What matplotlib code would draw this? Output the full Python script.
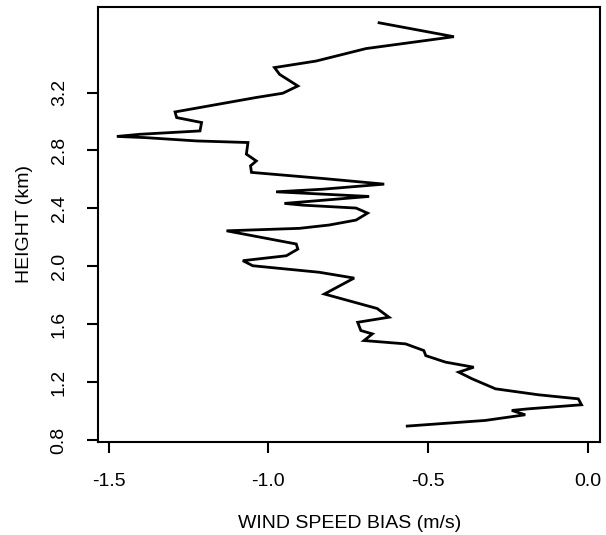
import matplotlib
matplotlib.use("Agg")
import matplotlib.pyplot as plt

plt.rcParams['font.family'] = ['Liberation Sans', 'DejaVu Sans']

bias = [-0.566, -0.322, -0.197, -0.239, -0.187, -0.021, -0.031, -0.156, -0.290,
        -0.363, -0.405, -0.358, -0.446, -0.508, -0.514, -0.571, -0.701, -0.675,
        -0.711, -0.721, -0.623, -0.660, -0.825, -0.732, -0.841, -1.049, -1.080,
        -0.944, -0.908, -0.913, -1.131, -0.903, -0.810, -0.726, -0.690, -0.726,
        -0.893, -0.950, -0.685, -0.830, -0.976, -0.830, -0.638, -0.830, -1.053,
        -1.056, -1.038, -1.069, -1.064, -1.225, -1.386, -1.474, -1.401, -1.214,
        -1.209, -1.287, -1.292, -1.040, -0.955, -0.908, -0.965, -0.981, -0.851,
        -0.695, -0.420, -0.654]
height = [0.899, 0.938, 0.977, 1.007, 1.018, 1.046, 1.087, 1.115, 1.156,
          1.225, 1.271, 1.305, 1.340, 1.385, 1.420, 1.466, 1.489, 1.535,
          1.558, 1.615, 1.650, 1.710, 1.810, 1.920, 1.960, 2.005, 2.040,
          2.074, 2.120, 2.155, 2.246, 2.263, 2.286, 2.320, 2.368, 2.403,
          2.423, 2.435, 2.483, 2.499, 2.515, 2.533, 2.568, 2.607, 2.649,
          2.694, 2.728, 2.775, 2.855, 2.866, 2.889, 2.897, 2.912, 2.935,
          2.993, 3.027, 3.066, 3.165, 3.195, 3.245, 3.325, 3.372, 3.417,
          3.503, 3.585, 3.681]

xticks = [-1.5, -1.0, -0.5, 0.0]
xticklabels = ["-1.5", "-1.0", "-0.5", "0.0"]
yticks = [0.8, 1.2, 1.6, 2.0, 2.4, 2.8, 3.2]
yticklabels = ["0.8", "1.2", "1.6", "2.0", "2.4", "2.8", "3.2"]

fig = plt.figure(figsize=(6.06, 5.35), dpi=100)
ax = fig.add_axes([0.1622, 0.1735, 0.828, 0.814])
ax.plot(bias, height, color='black', lw=2.0, solid_joinstyle='miter')

ax.set_xlim(-1.532, 0.037)
ax.set_ylim(0.788, 3.792)
ax.set_xticks(xticks)
ax.set_xticklabels(xticklabels)
ax.set_yticks(yticks)
ax.set_yticklabels(yticklabels, rotation=90, va='center')

for s in ax.spines.values():
    s.set_linewidth(1.5)
ax.tick_params(axis='both', length=8, width=1.5, labelsize=14, color='black')
ax.tick_params(axis='x', pad=14)
ax.tick_params(axis='y', pad=14)

ax.set_xlabel("WIND SPEED BIAS (m/s)", fontsize=14, labelpad=18)
ax.set_ylabel("HEIGHT (km)", fontsize=14, labelpad=13)

fig.savefig("out.png", dpi=100)
